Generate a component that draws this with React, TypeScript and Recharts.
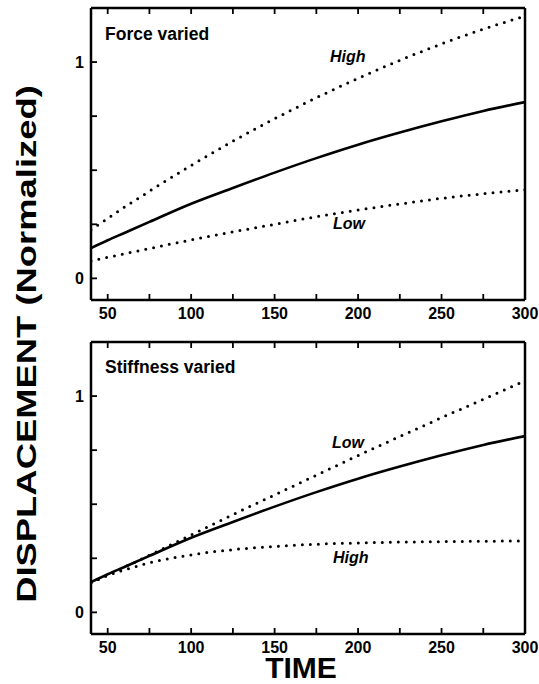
import { Line, LineChart, XAxis, YAxis } from "recharts";

// time points (ms)
const time = [40, 50, 60, 75, 100, 125, 150, 175, 200, 225, 250, 275, 300];

// reference curve, same in both panels
const baseline = [0.14, 0.176, 0.21, 0.261, 0.345, 0.418, 0.489, 0.556, 0.618, 0.674, 0.726, 0.774, 0.815];

// Force varied
const forceHigh = [0.225, 0.277, 0.329, 0.403, 0.522, 0.634, 0.738, 0.835, 0.925, 1.008, 1.084, 1.152, 1.213];
const forceLow = [0.08, 0.097, 0.114, 0.138, 0.178, 0.215, 0.25, 0.285, 0.316, 0.344, 0.37, 0.391, 0.41];

// Stiffness varied
const stiffLow = [0.137, 0.173, 0.209, 0.264, 0.358, 0.452, 0.543, 0.634, 0.725, 0.813, 0.9, 0.985, 1.07];
const stiffHigh = [0.137, 0.17, 0.196, 0.229, 0.266, 0.29, 0.305, 0.315, 0.321, 0.325, 0.327, 0.329, 0.33];

const xTicks = [50, 75, 100, 125, 150, 175, 200, 225, 250, 275, 300];
const xLabels = [50, 100, 150, 200, 250, 300];
const yTicks = [0, 0.25, 0.5, 0.75, 1];
const yLabels = [0, 1];

const FONT = '"Liberation Sans", Arial, Helvetica, sans-serif';
const tickFont = { fontSize: 16, fontWeight: 700, fill: "#000", fontFamily: FONT };
const TL = 6; // inward tick length
const tickStroke = { stroke: "#000", strokeWidth: 1.8 };

const forceData = time.map((t, i) => ({ t, mid: baseline[i], hi: forceHigh[i], lo: forceLow[i] }));
const stiffData = time.map((t, i) => ({ t, mid: baseline[i], hi: stiffHigh[i], lo: stiffLow[i] }));

// custom ticks so the marks point into the frame while labels stay outside
const LeftTick = (p: any) => (
  <g>
    <line x1={p.x + 7} x2={p.x + 7 + TL} y1={p.y} y2={p.y} {...tickStroke} />
    {yLabels.includes(p.payload.value) && (
      <text x={p.x} y={p.y} dy={6} textAnchor="end" {...tickFont}>
        {p.payload.value}
      </text>
    )}
  </g>
);

const makeBottomTick = (gap: number) => (p: any) => (
  <g>
    <line x1={p.x} x2={p.x} y1={p.y - gap} y2={p.y - gap - TL} {...tickStroke} />
    {xLabels.includes(p.payload.value) && (
      <text x={p.x} y={p.y} dy={12} textAnchor="middle" {...tickFont}>
        {p.payload.value}
      </text>
    )}
  </g>
);

const TopTick = (p: any) => <line x1={p.x} x2={p.x} y1={p.y} y2={p.y + TL} {...tickStroke} />;
const RightTick = (p: any) => <line x1={p.x - TL} x2={p.x} y1={p.y} y2={p.y} {...tickStroke} />;

function Panel({ data, labelGap }: { data: any[]; labelGap: number }) {
  const frame = { stroke: "#000", strokeWidth: 2.5 };
  const dotted = {
    stroke: "#000",
    strokeWidth: 3,
    strokeDasharray: "0 8",
    strokeLinecap: "round" as const,
    dot: false,
    isAnimationActive: false,
    xAxisId: "lab",
    yAxisId: "lab",
  };
  return (
    <LineChart width={539} height={330} data={data} margin={{ top: 7, right: 13, bottom: 0, left: 60 }}>
      <XAxis
        xAxisId="lab"
        dataKey="t"
        type="number"
        domain={[40, 300]}
        ticks={xTicks}
        interval={0}
        height={30}
        tickSize={0}
        tickMargin={labelGap}
        axisLine={frame}
        tickLine={false}
        tick={makeBottomTick(labelGap)}
        allowDataOverflow
      />
      <XAxis
        xAxisId="tp"
        dataKey="t"
        type="number"
        orientation="top"
        domain={[40, 300]}
        ticks={xTicks}
        interval={0}
        height={1}
        tickSize={0}
        tickMargin={0}
        axisLine={frame}
        tickLine={false}
        tick={TopTick}
      />
      <YAxis
        yAxisId="lab"
        type="number"
        domain={[-0.1, 1.25]}
        ticks={yTicks}
        interval={0}
        width={31}
        tickSize={0}
        tickMargin={7}
        axisLine={frame}
        tickLine={false}
        tick={LeftTick}
        allowDataOverflow
      />
      <YAxis
        yAxisId="rt"
        type="number"
        orientation="right"
        domain={[-0.1, 1.25]}
        ticks={yTicks}
        interval={0}
        width={1}
        tickSize={0}
        tickMargin={0}
        axisLine={frame}
        tickLine={false}
        tick={RightTick}
      />
      <Line type="monotone" dataKey="hi" {...dotted} />
      <Line type="monotone" dataKey="lo" {...dotted} />
      <Line
        type="monotone"
        dataKey="mid"
        xAxisId="lab"
        yAxisId="lab"
        stroke="#000"
        strokeWidth={2.6}
        dot={false}
        isAnimationActive={false}
      />
    </LineChart>
  );
}

export default function App() {
  const lbl = { fontFamily: FONT, fontWeight: 700, fill: "#000" };
  return (
    <div style={{ position: "absolute", left: 0, top: 0, width: 539, height: 684, background: "#fff" }}>
      <div style={{ position: "absolute", left: 0, top: 0 }}>
        <Panel data={forceData} labelGap={7} />
      </div>
      <div style={{ position: "absolute", left: 0, top: 334 }}>
        <Panel data={stiffData} labelGap={7} />
      </div>
      <svg width={539} height={684} style={{ position: "absolute", left: 0, top: 0, pointerEvents: "none" }}>
        <text {...lbl} fontSize={17.5} x={105} y={40}>Force varied</text>
        <text {...lbl} fontSize={16} fontStyle="italic" x={330} y={62}>High</text>
        <text {...lbl} fontSize={16} fontStyle="italic" x={333} y={229}>Low</text>
        <text {...lbl} fontSize={17.5} x={105} y={373}>Stiffness varied</text>
        <text {...lbl} fontSize={16} fontStyle="italic" x={332} y={448}>Low</text>
        <text {...lbl} fontSize={16} fontStyle="italic" x={333} y={563}>High</text>
        <text {...lbl} fontSize={30} x={301} y={678} textAnchor="middle">TIME</text>
        <text {...lbl} fontSize={28} textAnchor="middle" transform="translate(36,344) rotate(-90) scale(1.3,1)">
          DISPLACEMENT (Normalized)
        </text>
      </svg>
    </div>
  );
}
